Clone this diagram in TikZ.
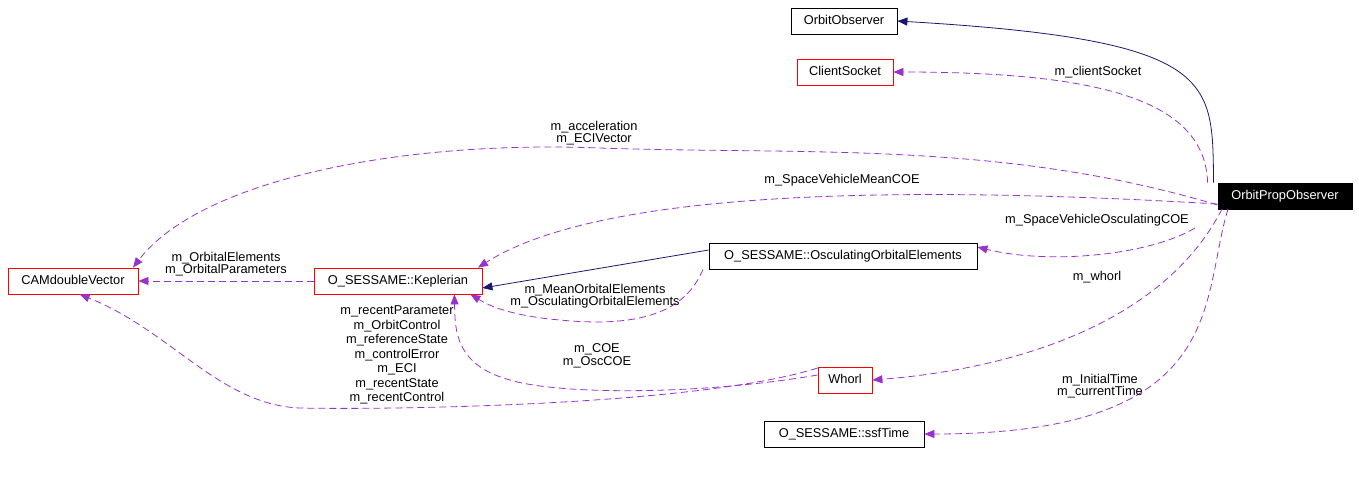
\documentclass[tikz,border=0pt]{standalone}
\usepackage{fontspec}
\setmainfont{Liberation Sans}
\usetikzlibrary{arrows.meta}
\definecolor{pur}{RGB}{153,50,204}
\definecolor{nav}{RGB}{25,25,112}
\begin{document}
\begin{tikzpicture}[x=1pt,y=-1pt,font=\fontsize{12.8}{12.5}\selectfont,line width=0.8pt,
 box/.style={draw,inner sep=0pt,minimum height=26pt,text height=9.5pt,text depth=2.5pt,fill=white},
 rbox/.style={box,draw=red},
 dep/.style={pur,dash pattern=on 7pt off 4pt,-{Triangle[length=10pt,width=8pt]}},
 inh/.style={nav,-{Triangle[length=10pt,width=8pt]}},
 lab/.style={align=center,inner sep=1pt}]
\useasboundingbox (0,0) rectangle (1359,483);
\node[box,minimum width=106pt] (oo) at (844,21) {OrbitObserver};
\node[rbox,minimum width=96pt] (cs) at (845,72) {ClientSocket};
\node[box,fill=black,text=white,minimum width=134pt] (op) at (1285,196) {OrbitPropObserver};
\node[rbox,minimum width=130pt] (cam) at (73,281) {CAMdoubleVector};
\node[rbox,minimum width=168pt] (kep) at (398,281) {O\_SESSAME::Keplerian};
\node[box,minimum width=268pt] (osc) at (843,256) {O\_SESSAME::OsculatingOrbitalElements};
\node[rbox,minimum width=54pt] (wh) at (845,380) {Whorl};
\node[box,minimum width=160pt] (ssf) at (844,434) {O\_SESSAME::ssfTime};
\draw[inh] (op.north west)++(-4,0) .. controls (1212,80) and (1220,40) .. (oo.east);
\draw[dep] (op.north west)++(-10,0) .. controls (1205,100) and (1100,72) .. (cs.east);
\node[lab] at (1098,72) {m\_clientSocket};
\draw[dep] ([yshift=-9pt]op.west) .. controls (1000,140) and (800,155) .. (600,148) .. controls (400,140) and (200,180) .. ([xshift=60pt]cam.north);
\node[lab] at (594,133) {m\_acceleration\\m\_ECIVector};
\draw[dep] ([yshift=-8pt]op.west) .. controls (900,185) and (600,190) .. ([xshift=80pt]kep.north);
\node[lab] at (842,180) {m\_SpaceVehicleMeanCOE};
\draw[dep] (1195,228) .. controls (1150,255) and (1050,265) .. ([yshift=9pt]osc.east);
\node[lab] at (1097,220) {m\_SpaceVehicleOsculatingCOE};
\draw[dep] (1222,209) .. controls (1160,330) and (1000,370) .. (wh.east);
\node[lab] at (1097,277) {m\_whorl};
\draw[dep] (1228,209) .. controls (1200,300) and (1230,434) .. (ssf.east);
\node[lab] at (1100,386) {m\_InitialTime\\m\_currentTime};
\draw[inh] ([yshift=6pt]osc.west) -- ([yshift=-7pt]kep.east);
\draw[dep] ([xshift=-140pt]osc.south) .. controls (690,300) and (660,330) .. (560,320) .. controls (500,315) and (480,300) .. ([xshift=-12pt]kep.south east);
\node[lab] at (595,296) {m\_MeanOrbitalElements\\m\_OsculatingOrbitalElements};
\draw[dep] (kep.west) -- (cam.east);
\node[lab] at (226,264) {m\_OrbitalElements\\m\_OrbitalParameters};
\draw[dep] ([yshift=5pt]wh.west) .. controls (700,395) and (560,395) .. (510,380) .. controls (455,365) and (455,330) .. ([xshift=-28pt]kep.south east);
\node[lab] at (597,356) {m\_COE\\m\_OscCOE};
\draw[dep] ([yshift=12pt]wh.west) .. controls (700,405) and (400,410) .. (300,408) .. controls (220,405) and (170,330) .. ([xshift=72pt]cam.south west);
\node[lab,font=\fontsize{12.8}{14.5}\selectfont] at (397,355) {m\_recentParameter\\m\_OrbitControl\\m\_referenceState\\m\_controlError\\m\_ECI\\m\_recentState\\m\_recentControl};
\end{tikzpicture}
\end{document}
